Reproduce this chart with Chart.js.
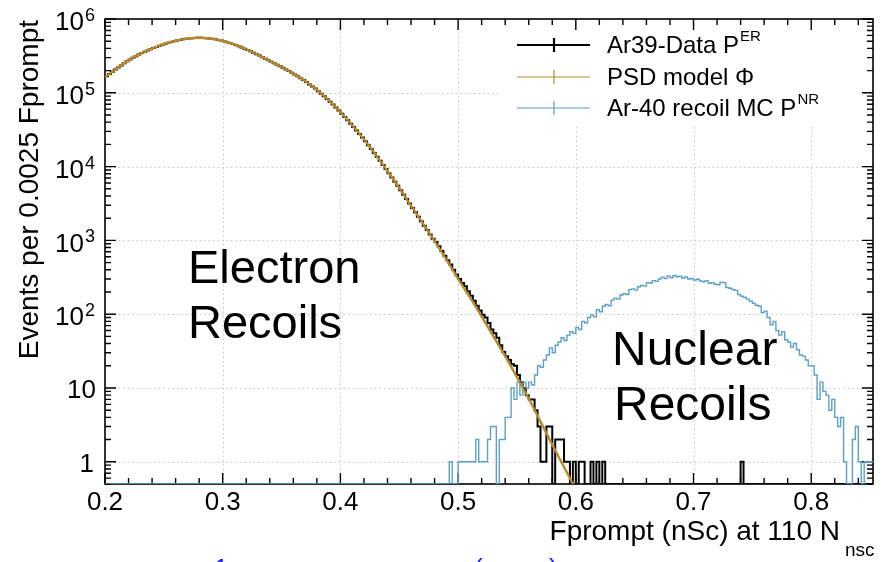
<!DOCTYPE html>
<html><head><meta charset="utf-8">
<script src="https://cdn.jsdelivr.net/npm/chart.js@4/dist/chart.umd.min.js"></script>
<style>html,body{margin:0;padding:0;background:#fff;}canvas{display:block}</style>
</head><body>
<canvas id="c" width="883" height="562"></canvas>
<script>
// ---------------- data ----------------
const binStart = 0.2;       // lower edge of first histogram bin
const binWidth = 0.0025;    // Fprompt bin width
const xMin = 0.2, xMax = 0.8525;
const yMin = 0.5, yMax = 1e6;
const xTickLabels = ['0.2','0.3','0.4','0.5','0.6','0.7','0.8'];
const yTickExponents = [0,1,2,3,4,5,6];

// Ar39 data (electron recoils), events per bin, bins from 0.2 upward
const erData = [
168000,180000,193000,207000, 221000,235000,251000,267000, 283000,298000,313000,330000,
346000,360000,375000,390000, 405000,419000,434000,449000, 463000,475000,488000,500000,
512000,520000,530000,538000, 545000,548000,551000,555000, 555000,551000,548000,545000,
538000,530000,520000,512000, 500000,485000,472000,458000, 444000,428000,411000,396000,
381000,365000,349000,334000, 319000,304000,290000,276000, 263000,251000,240000,229000,
218000,207000,197000,187000, 177000,167000,158000,149000, 140000,130000,122000,114000,
105000,97200,89700,82700, 75900,69200,63100,57500, 52200,47000,42400,38200,
34400,30800,27600,24800, 22100,19500,17300,15300, 13600,12000,10500,9280,
8150,7140,6250,5480, 4790,4170,3630,3160, 2750,2400,2090,1820,
1580,1380,1200,1050, 950,830,720,620, 540,470,400,345,
300,265,240,205, 178,152,130,112, 98,90,76,62,
55,48,38,31, 27,24,21,20, 15,12,10,8,
7,7,5,3, 1,1,3,3, 0,2,2,2,
1,1,0,1, 0,1,1,0, 0,1,0,1,
0,1,0,0,
0,0,0,0,0,0,0,0,0,0,0,0,0,0,0,0,0,0,0,0,0,0,0,0,0,0,0,0,0,0,0,0,0,0,0,0,0,0,0,0,0,0,0,0,
1,
0,0,0,0,0,0,0,0,0,0,0,0,0,0,0,0,0,0,0,0,0,0,0,0,0,0,0,0,0,0,0,0,0,0,0,0,0,0,0,0,0,0,0,0
];

// Ar-40 recoil MC (nuclear recoils), events per bin, bins from 0.2 upward
const nrData = [
0,0,0,0,0,0,0,0,0,0,0,0,0,0,0,0,0,0,0,0,0,0,0,0,0,0,0,0,0,0,0,0,0,0,0,0,0,0,0,0,
0,0,0,0,0,0,0,0,0,0,0,0,0,0,0,0,0,0,0,0,0,0,0,0,0,0,0,0,0,0,0,0,0,0,0,0,0,0,0,0,
0,0,0,0,0,0,0,0,0,0,0,0,0,0,0,0,0,0,0,0,0,0,0,0,0,0,0,0,0,0,0,0,0,0,0,0,
0,1,0,0, 1,1,1,1, 1,1,2,1, 1,1,2,3, 3,0,2,2,
4,4,10,7, 12,8,12,10, 12,11,15,20, 19,24,28,35, 30,38,42,48,
44,52,58,55, 66,62,80,76, 90,98,92,115, 108,128,135,130, 155,165,160,182,
190,185,215,220, 212,235,245,240, 268,265,285,278, 300,318,305,330, 312,335,322,328,
310,320,300,305, 290,298,282,275, 285,262,268,255, 250,272,268,230, 225,215,210,185,
175,168,160,150, 140,132,128,105, 110,90,72,80, 60,52,58,45, 42,36,40,33,
28,27,24,20, 20,15,7,12, 9,8,5,7, 4,3,4,1, 0,0,2,3,
1,0,1,1, 1
];

// PSD model curve
const modelX = [0.20,0.21,0.22,0.23,0.24,0.25,0.26,0.27,0.28,0.29,0.30,0.31,0.32,0.33,0.34,0.35,0.36,0.37,0.38,0.39,0.40,
                0.41,0.42,0.43,0.44,0.45,0.46,0.47,0.48,0.49,0.50,0.51,0.52,0.53,0.54,0.55,0.56,0.57,0.58,0.59,0.60];
const modelY = [162000,214000,275000,339000,398000,457000,507000,543000,556000,543000,507000,452000,389000,327000,
                269000,224000,182000,145000,110000,79400,55000,36300,23400,14500,8710,5130,2950,1700,977,550,
                302,170,93,50,27,14,7.2,3.5,1.7,0.85,0.42];

const seriesNames = ['Ar39-Data P', 'PSD model \u03A6', 'Ar-40 recoil MC P'];
const seriesSup = ['ER', '', 'NR'];
const colData = '#000000', colModel = '#b8892a', colNR = '#5aa0c8';

// ---------------- helpers ----------------
const FONT = '"Liberation Sans", Arial, Helvetica, sans-serif';
function histPoints(vals) {
  const pts = vals.map((v, i) => ({x: binStart + i * binWidth, y: v > 0 ? v : yMin}));
  const last = vals[vals.length - 1];
  pts.push({x: binStart + vals.length * binWidth, y: last > 0 ? last : yMin});
  return pts;
}

const decorPlugin = {
  id: 'decor',
  beforeDatasetsDraw(chart) {
    const {ctx, chartArea: a, scales: {x, y}} = chart;
    ctx.save();
    // dotted grid
    ctx.strokeStyle = '#c4c4c4'; ctx.lineWidth = 1; ctx.setLineDash([1.5, 3]);
    xTickLabels.slice(1).forEach(l => {
      const px = Math.round(x.getPixelForValue(parseFloat(l))) + 0.5;
      ctx.beginPath(); ctx.moveTo(px, a.top); ctx.lineTo(px, a.bottom); ctx.stroke();
    });
    yTickExponents.slice(0, -1).forEach(n => {
      const py = Math.round(y.getPixelForValue(Math.pow(10, n))) + 0.5;
      ctx.beginPath(); ctx.moveTo(a.left, py); ctx.lineTo(a.right, py); ctx.stroke();
    });
    ctx.setLineDash([]);
    // legend background box (covers grid)
    ctx.fillStyle = '#fff';
    ctx.fillRect(500, 29, 366, 95);
    // frame
    ctx.strokeStyle = '#000'; ctx.lineWidth = 1.6;
    ctx.strokeRect(a.left, a.top, a.right - a.left, a.bottom - a.top);
    // x ticks (major 0.1, minor 0.02)
    ctx.lineWidth = 1.4;
    for (let k = 0; k <= 40; k++) {
      const v = 0.2 + k * 0.02;
      if (v > xMax + 1e-9) break;
      const px = x.getPixelForValue(v);
      const len = (k % 5 === 0) ? 11 : 6;
      ctx.beginPath();
      ctx.moveTo(px, a.bottom); ctx.lineTo(px, a.bottom - len);
      ctx.moveTo(px, a.top); ctx.lineTo(px, a.top + len);
      ctx.stroke();
    }
    // y ticks (log)
    for (let n = -1; n <= 6; n++) {
      for (let k = 1; k <= 9; k++) {
        const v = k * Math.pow(10, n);
        if (v < yMin - 1e-9 || v > yMax + 1e-6) continue;
        const py = y.getPixelForValue(v);
        const len = (k === 1) ? 11 : 6;
        ctx.beginPath();
        ctx.moveTo(a.left, py); ctx.lineTo(a.left + len, py);
        ctx.moveTo(a.right, py); ctx.lineTo(a.right - len, py);
        ctx.stroke();
      }
    }
    ctx.restore();
  },
  afterDraw(chart) {
    const {ctx, chartArea: a, scales: {x, y}} = chart;
    ctx.save();
    ctx.fillStyle = '#000';
    // y tick labels
    yTickExponents.forEach(n => {
      const py = y.getPixelForValue(Math.pow(10, n));
      ctx.textBaseline = 'middle';
      ctx.font = '26px ' + FONT;
      if (n === 0) { ctx.textAlign = 'right'; ctx.fillText('1', 94, py + 3); }
      else if (n === 1) { ctx.textAlign = 'right'; ctx.fillText('10', 96, py + 3); }
      else {
        ctx.textAlign = 'right'; ctx.fillText('10', 84, py + 4);
        ctx.font = '18px ' + FONT; ctx.textAlign = 'left';
        ctx.fillText(String(n), 85, py - 3);
      }
    });
    // y title
    ctx.save();
    ctx.translate(38, 20); ctx.rotate(-Math.PI / 2);
    ctx.font = '28px ' + FONT; ctx.textAlign = 'right'; ctx.textBaseline = 'alphabetic';
    ctx.fillText('Events per 0.0025 Fprompt', 0, 0);
    ctx.restore();
    // x title
    ctx.textBaseline = 'alphabetic';
    ctx.font = '28px ' + FONT; ctx.textAlign = 'right';
    ctx.fillText('Fprompt (nSc) at 110 N', 840, 540);
    ctx.font = '19px ' + FONT; ctx.textAlign = 'left';
    ctx.fillText('nsc', 845, 556);
    // legend
    const rows = [45, 77, 108];
    const cols = [colData, colModel, colNR];
    const widths = [2.2, 1.2, 1.2];
    rows.forEach((ry, i) => {
      ctx.strokeStyle = cols[i]; ctx.lineWidth = widths[i];
      ctx.beginPath();
      ctx.moveTo(517, ry); ctx.lineTo(590, ry);
      ctx.moveTo(554, ry - 7); ctx.lineTo(554, ry + 7);
      ctx.stroke();
      ctx.fillStyle = '#000';
      ctx.font = '24px ' + FONT; ctx.textAlign = 'left'; ctx.textBaseline = 'middle';
      ctx.fillText(seriesNames[i], 607, ry + 1);
      if (seriesSup[i]) {
        const w = ctx.measureText(seriesNames[i]).width;
        ctx.font = '15px ' + FONT;
        ctx.fillText(seriesSup[i], 607 + w + 1, ry - 8);
      }
    });
    // region labels
    ctx.fillStyle = '#000'; ctx.font = '47px ' + FONT;
    ctx.textAlign = 'left'; ctx.textBaseline = 'alphabetic';
    ctx.fillText('Electron', 188, 283);
    ctx.fillText('Recoils', 188, 338);
    ctx.font = '48px ' + FONT;
    ctx.fillText('Nuclear', 612, 365);
    ctx.fillText('Recoils', 614, 420);
    // cut-off blue text at the bottom edge
    ctx.fillStyle = '#1a1aff'; ctx.font = '26px ' + FONT;
    ctx.fillText('1', 214, 577);
    ctx.fillText('(', 474, 577);
    ctx.fillText(')', 549, 577);
    ctx.restore();
  }
};

new Chart(document.getElementById('c'), {
  type: 'line',
  data: {
    datasets: [
      {label: 'model', data: modelX.map((v, i) => ({x: v, y: modelY[i]})), borderColor: colModel,
       borderWidth: 2.4, pointRadius: 0, cubicInterpolationMode: 'monotone', order: 0},
      {label: 'nr', data: histPoints(nrData), borderColor: colNR, borderWidth: 1.4,
       pointRadius: 0, stepped: 'before', order: 1},
      {label: 'er', data: histPoints(erData), borderColor: colData, borderWidth: 2,
       pointRadius: 0, stepped: 'before', order: 2}
    ]
  },
  options: {
    responsive: false, animation: false, devicePixelRatio: 1,
    layout: {padding: {top: 19, right: 10, left: 0, bottom: 0}},
    plugins: {legend: {display: false}, tooltip: {enabled: false}},
    scales: {
      x: {type: 'linear', min: xMin, max: xMax,
          grid: {display: false, drawTicks: false}, border: {display: false},
          ticks: {stepSize: 0.1, includeBounds: false, autoSkip: false, maxRotation: 0,
                  padding: 3, color: '#000', font: {size: 26, family: FONT},
                  callback: v => v.toFixed(1)},
          afterFit: s => { s.height = 78; }},
      y: {type: 'logarithmic', min: yMin, max: yMax,
          grid: {display: false, drawTicks: false}, border: {display: false},
          ticks: {display: false},
          afterFit: s => { s.width = 105; }}
    }
  },
  plugins: [decorPlugin]
});
</script>
</body></html>
